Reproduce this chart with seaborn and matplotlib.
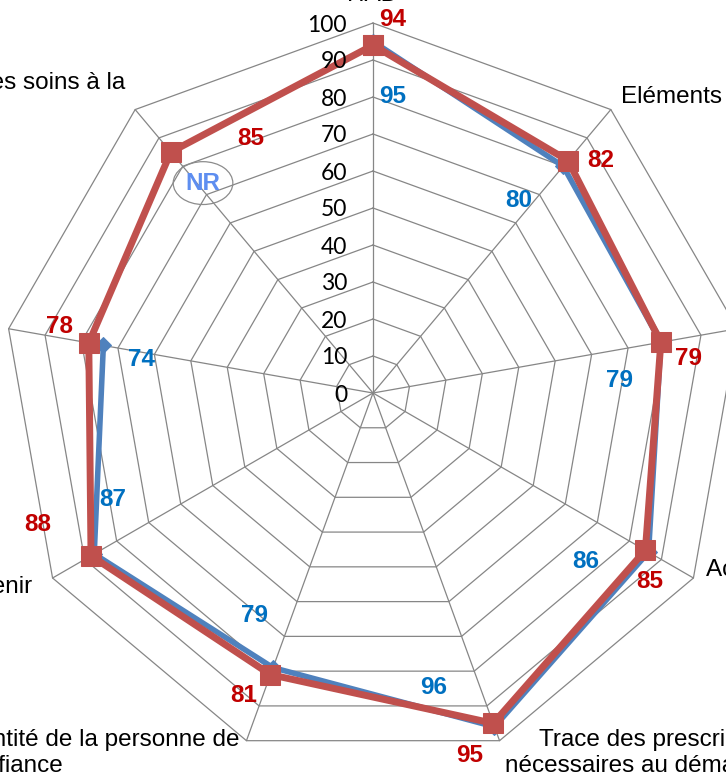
import numpy as np
import matplotlib
matplotlib.use("Agg")
import matplotlib.pyplot as plt
import matplotlib.transforms as mtransforms
import seaborn as sns

# -----------------------------
# DATA
# -----------------------------
categories = [
    "HAD",
    "Eléments relatifs à l'admission",
    "",
    "Accord du médecin traitant",
    "Trace des prescriptions\nnécessaires au démarrage du",
    "Identité de la personne de\nconfiance",
    "Identité de la personne à prévenir",
    "",
    "Coordination des soins à la",
]
red_values = [94, 82, 79, 85, 95, 81, 88, 78, 85]
blue_values = [95, 80, 79, 86, 96, 79, 87, 74, np.nan]   # NR on last axis
ring_levels = [0, 10, 20, 30, 40, 50, 60, 70, 80, 90, 100]

# label positions (angle in degrees, radius in chart units)
red_label_pos = [(3, 101), (44.5, 88), (83.7, 85.7), (124.3, 90.6), (165, 101.3),
                 (203.1, 88.8), (248.6, 97.2), (281.9, 86.7), (334.4, 76.4)]
blue_label_pos = [(3.7, 80.2), (37.2, 65.2), (87, 66.6), (128.4, 73.5), (168.3, 81.4),
                  (208, 68), (247.8, 75.9), (278.1, 63.3), (321, 73)]
cat_label_pos = [(0, 106.0, "center", "baseline", "center"),
                 (40, 104.4, "left", "center", "center"),
                 (80, 106, "left", "center", "center"),
                 (118, 101.9, "left", "center", "center"),
                 (158.6, 97.6, "left", "top", "center"),
                 (201.6, 97.7, "right", "top", "left"),
                 (240.4, 106, "right", "center", "center"),
                 (280, 106, "right", "center", "center"),
                 (321.3, 107.3, "right", "center", "center")]

# -----------------------------
# STYLE
# -----------------------------
sns.set_theme(style="white")
plt.rcParams["font.family"] = ["Liberation Sans", "DejaVu Sans"]

grid_color = "#868686"
red_line = "#C0504D"
blue_line = "#4F81BD"
red_text = "#C00000"
blue_text = "#0070C0"
nr_text = "#5E8EF0"

n = len(categories)
angles = np.linspace(0, 2 * np.pi, n, endpoint=False)

fig = plt.figure(figsize=(7.26, 7.82), dpi=100)
ax = fig.add_axes([3 / 726, 19 / 782, 740 / 726, 740 / 782], projection="polar")
ax.set_theta_zero_location("N")
ax.set_theta_direction(-1)
ax.set_ylim(0, 100)
ax.grid(False)
ax.set_xticks([])
ax.set_yticks([])
ax.spines["polar"].set_visible(False)

# -----------------------------
# NONAGON GRID
# -----------------------------
ring_angles = np.append(angles, angles[0])
for level in ring_levels[1:]:
    ax.plot(ring_angles, [level] * (n + 1), color=grid_color, lw=0.9, zorder=1, clip_on=False)
for a in angles:
    ax.plot([a, a], [0, 100], color=grid_color, lw=0.9, zorder=1, clip_on=False)

tick_tf = mtransforms.offset_copy(ax.transData, fig=fig, x=-26, y=-2, units="dots")
for level in ring_levels:
    ax.text(0, level, str(level), transform=tick_tf, ha="right", va="center",
            fontsize=16.5, family=["Lato", "DejaVu Sans"], color="black", zorder=5)

# -----------------------------
# SERIES
# -----------------------------
sns.lineplot(x=angles, y=blue_values, ax=ax, sort=False, color=blue_line, lw=4,
             marker="D", markersize=8, markeredgecolor=blue_line, zorder=3, clip_on=False)

red_closed = red_values + red_values[:1]
angles_closed = np.append(angles, angles[0] + 2 * np.pi)
sns.lineplot(x=angles_closed, y=red_closed, ax=ax, sort=False, color=red_line, lw=5,
             marker="s", markersize=14, markeredgecolor=red_line, zorder=4, clip_on=False)

# -----------------------------
# DATA LABELS
# -----------------------------
for val, (th, r) in zip(red_values, red_label_pos):
    ax.text(np.deg2rad(th), r, str(val), ha="center", va="center", fontsize=17.5,
            fontweight="bold", color=red_text, zorder=6)

for val, (th, r) in zip(blue_values, blue_label_pos):
    if np.isnan(val):
        ax.text(np.deg2rad(th), r, "NR", ha="center", va="center", fontsize=17.5,
                fontweight="bold", color=nr_text, zorder=6,
                bbox=dict(boxstyle="ellipse,pad=0.15", fc="none", ec="#8C8C8C", lw=0.9))
    else:
        ax.text(np.deg2rad(th), r, str(int(val)), ha="center", va="center", fontsize=17.5,
                fontweight="bold", color=blue_text, zorder=6)

# -----------------------------
# CATEGORY LABELS
# -----------------------------
for label, (th, r, ha, va, ma) in zip(categories, cat_label_pos):
    if label:
        ax.text(np.deg2rad(th), r, label, ha=ha, va=va, multialignment=ma,
                fontsize=17.5, color="black", zorder=6)

fig.savefig("out.png", dpi=100)
